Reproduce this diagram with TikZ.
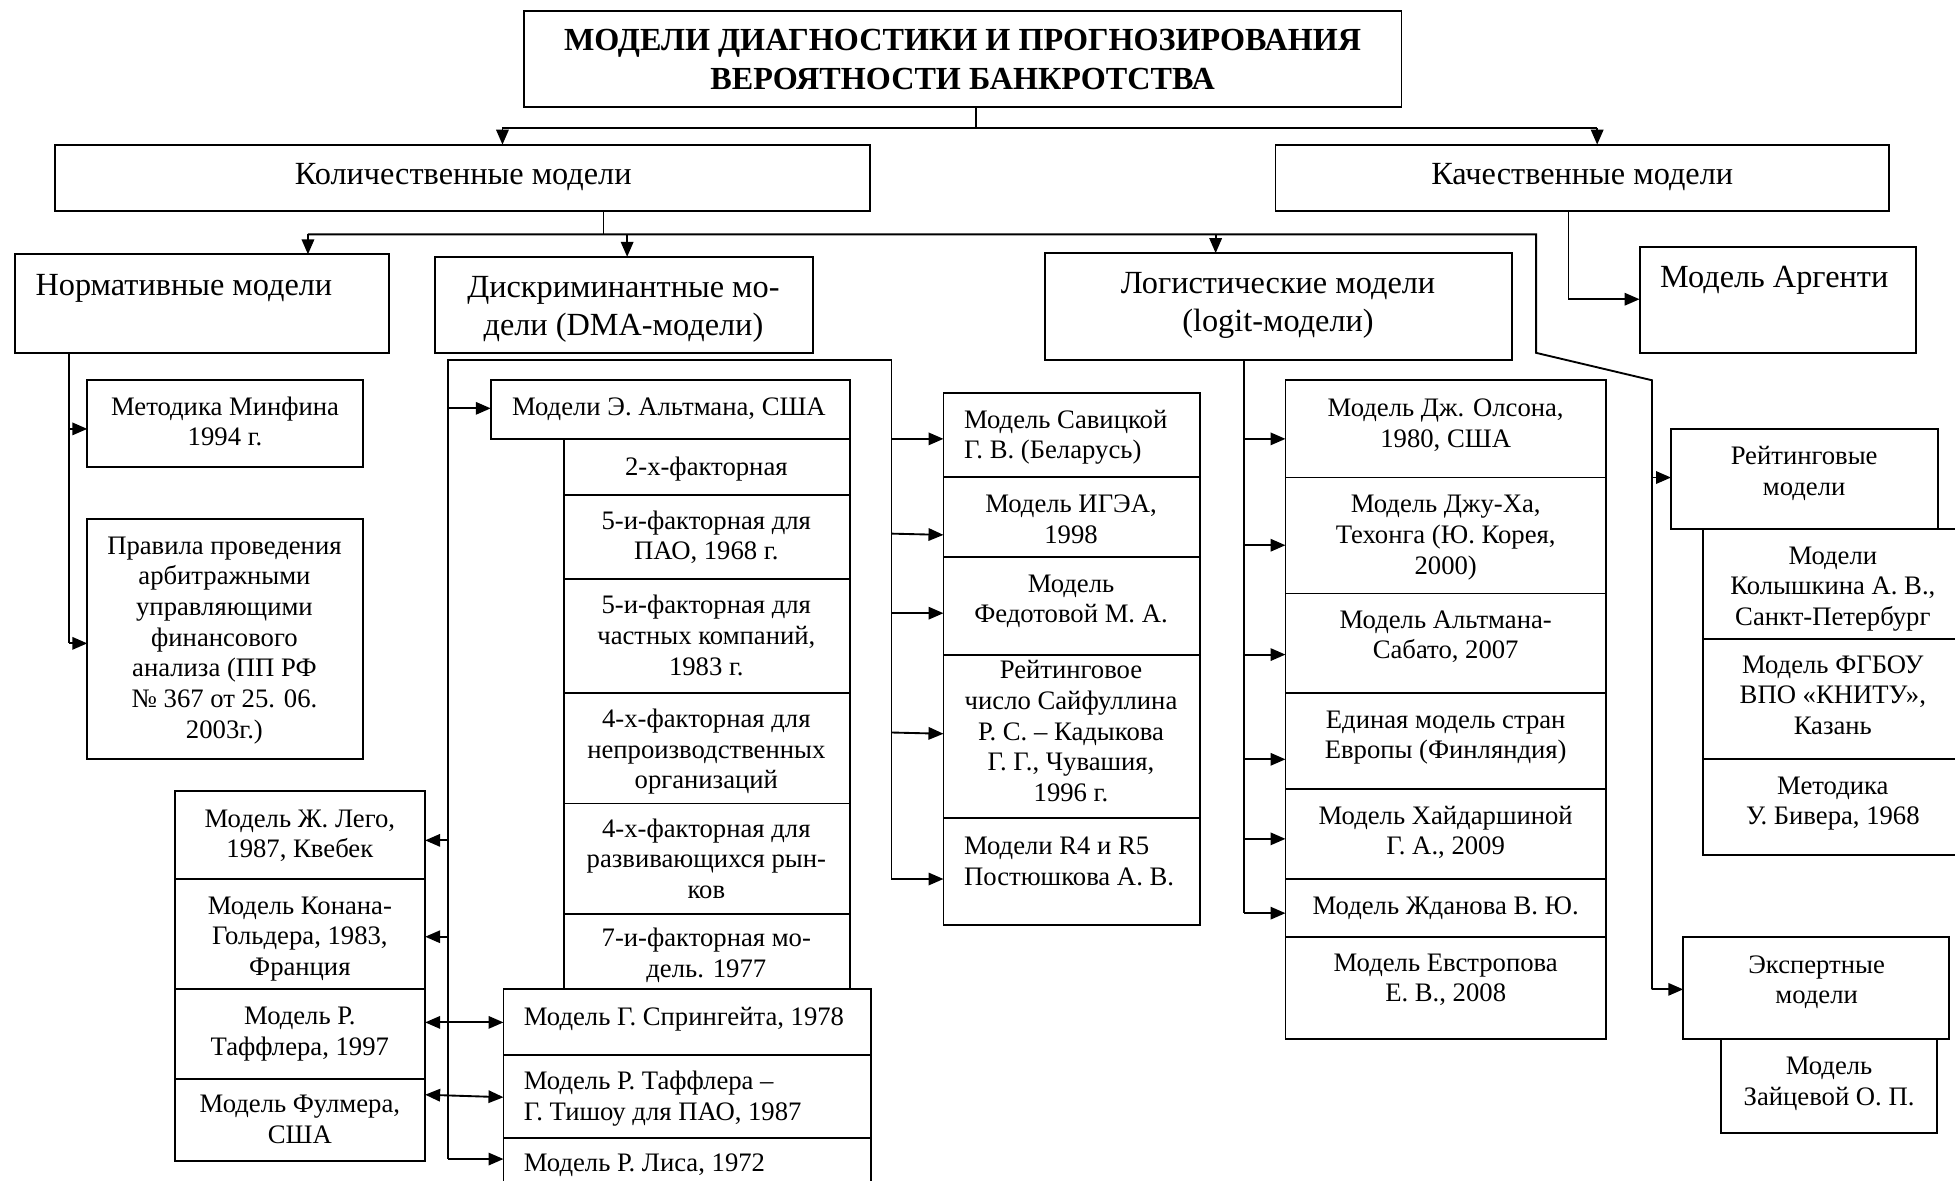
\documentclass[tikz,border=0pt]{standalone}
\usepackage{fontspec}
\setmainfont{Liberation Serif}
\usetikzlibrary{arrows.meta,calc}
\newcommand\mkbox[5]{%
  \pgfmathsetmacro\bxw{#4-#2}\pgfmathsetmacro\bxh{#5-#3}%
  \node[box, anchor=north west, minimum width=\bxw pt, minimum height=\bxh pt] (#1) at (#2,#3) {};}
\tikzset{
 box/.style={draw, line width=1.5pt, inner sep=0pt, outer sep=0pt, fill=white},
 ln/.style={line width=1.5pt},
 arr/.style={line width=1.5pt, -{Triangle[length=12pt,width=10pt]}},
 darr/.style={line width=1.5pt, {Triangle[length=12pt,width=10pt]}-{Triangle[length=12pt,width=10pt]}},
 intxt/.style={inner sep=0pt, align=center, font=\fontsize{21.4}{24.6}\selectfont, anchor=north},
 intxtl/.style={inner sep=0pt, align=left, font=\fontsize{21.4}{24.6}\selectfont, anchor=north west},
 outtxt/.style={inner sep=0pt, align=center, font=\fontsize{25.9}{30}\selectfont, anchor=north},
 ttltxt/.style={inner sep=0pt, align=center, font=\fontsize{25.8}{31}\selectfont\bfseries, anchor=north},
}
\begin{document}
\begin{tikzpicture}[x=1pt,y=-1pt]
\useasboundingbox (0,0) rectangle (1568,947);
\fill[white] (0,0) rectangle (1568,947);
\clip (0,0) rectangle (1568,947);
% ---------- boxes ----------
\mkbox{title}{420}{8.6}{1124}{85.5}
\mkbox{kol}{44}{116}{698}{169}
\mkbox{kach}{1023}{116}{1515}{169}
\mkbox{norm}{12}{204}{312}{283}
\mkbox{disc}{349}{206}{652}{283}
\mkbox{logit}{838}{203}{1213}{289}
\mkbox{argenti}{1315}{198}{1537}{283}
\mkbox{minfin}{70}{305}{291}{374.5}
\mkbox{pravila}{70}{416}{291}{609}
\mkbox{altman}{393.6}{304.5}{681.5}{352}
\mkbox{aA}{452}{352}{681.5}{397.3}
\mkbox{aB}{452}{397.3}{681.5}{464.2}
\mkbox{aC}{452}{464.2}{681.5}{555.7}
\mkbox{aD}{452}{555.7}{681.5}{644.4}
\mkbox{aE}{452}{644.4}{681.5}{732.8}
\mkbox{aF}{452}{732.8}{681.5}{793.5}
\mkbox{lego}{140.4}{634.6}{341}{705}
\mkbox{konan}{140.4}{705}{341}{793.3}
\mkbox{taffler}{140.4}{793.3}{341}{865.4}
\mkbox{fulmer}{140.4}{865.4}{341}{931}
\mkbox{spring}{403.8}{793.5}{698.5}{846}
\mkbox{tt}{403.8}{846}{698.5}{912.5}
\mkbox{lis}{403.8}{912.5}{698.5}{980}
\mkbox{sav}{756.7}{315}{962.2}{382.3}
\mkbox{igea}{756.7}{382.3}{962.2}{446.8}
\mkbox{fed}{756.7}{446.8}{962.2}{525.4}
\mkbox{saif}{756.7}{525.4}{962.2}{656.4}
\mkbox{post}{756.7}{656.4}{962.2}{741.7}
\mkbox{ols}{1031}{304.8}{1288}{383}
\mkbox{dju}{1031}{383}{1288}{476}
\mkbox{asab}{1031}{476}{1288}{555.6}
\mkbox{edin}{1031}{555.6}{1288}{633}
\mkbox{haid}{1031}{633}{1288}{705}
\mkbox{zhd}{1031}{705}{1288}{751.3}
\mkbox{evs}{1031}{751.3}{1288}{833.3}
\mkbox{rating}{1340.2}{344}{1554}{424.3}
\mkbox{kolysh}{1366}{424.3}{1580}{512.5}
\mkbox{fgbou}{1366}{512.5}{1580}{608.8}
\mkbox{biver}{1366}{608.8}{1580}{685.8}
\mkbox{expert}{1350}{751.3}{1563}{833.3}
\mkbox{zaits}{1380}{833.3}{1553.6}{908.5}
% ---------- texts ----------
\node[ttltxt] (t-title) at (772,18.5) {\strut МОДЕЛИ ДИАГНОСТИКИ И ПРОГНОЗИРОВАНИЯ\\ВЕРОЯТНОСТИ БАНКРОТСТВА};
\node[outtxt] (t-kol) at (371.5,126.5) {\strut Количественные модели};
\node[outtxt] (t-kach) at (1269,126.5) {\strut Качественные модели};
\node[outtxt] (t-norm) at (147.5,215.5) {\strut Нормативные модели};
\node[outtxt] (t-disc) at (500,217.5) {\strut Дискриминантные мо-\\дели (DMA-модели)};
\node[outtxt] (t-logit) at (1025,214.5) {\strut Логистические модели\\(logit-модели)};
\node[outtxt] (t-arg) at (1423,209.5) {\strut Модель Аргенти};
\node[intxt] (t-minfin) at (180.5,315.6) {\strut Методика Минфина\\1994 г.};
\node[intxt] (t-pravila) at (180,427) {\strut Правила проведения\\арбитражными\\управляющими\\финансового\\анализа (ПП РФ\\№ 367 от 25. 06.\\2003г.)};
\node[intxt] (t-altman) at (536.5,316) {\strut Модели Э. Альтмана, США};
\node[intxt] (t-aA) at (566.5,364) {\strut 2-х-факторная};
\node[intxt] (t-aB) at (566.5,407) {\strut 5-и-факторная для\\ПАО, 1968 г.};
\node[intxt] (t-aC) at (566.5,475) {\strut 5-и-факторная для\\частных компаний,\\1983 г.};
\node[intxt] (t-aD) at (566.5,566) {\strut 4-х-факторная для\\непроизводственных\\организаций};
\node[intxt] (t-aE) at (566.5,654) {\strut 4-х-факторная для\\развивающихся рын-\\ков};
\node[intxt] (t-aF) at (566.5,742) {\strut 7-и-факторная мо-\\дель. 1977};
\node[intxt] (t-lego) at (240.5,646) {\strut Модель Ж. Лего,\\1987, Квебек};
\node[intxt] (t-konan) at (240.5,715.7) {\strut Модель Конана-\\Гольдера, 1983,\\Франция};
\node[intxt] (t-taffler) at (240.5,804.4) {\strut Модель Р.\\Таффлера, 1997};
\node[intxt] (t-fulmer) at (240.5,875) {\strut Модель Фулмера,\\США};
\node[intxtl] (t-spring) at (420,805) {\strut Модель Г. Спрингейта, 1978};
\node[intxtl] (t-tt) at (420,856.5) {\strut Модель Р. Таффлера –\\Г. Тишоу для ПАО, 1987};
\node[intxtl] (t-lis) at (420,922) {\strut Модель Р. Лиса, 1972};
\node[intxtl] (t-sav) at (773,326) {\strut Модель Савицкой\\Г. В. (Беларусь)};
\node[intxt] (t-igea) at (859,393.7) {\strut Модель ИГЭА,\\1998};
\node[intxt] (t-fed) at (859,457.4) {\strut Модель\\Федотовой М. А.};
\node[intxt] (t-saif) at (859,527) {\strut Рейтинговое\\число Сайфуллина\\Р. С. – Кадыкова\\Г. Г., Чувашия,\\1996 г.};
\node[intxtl] (t-post) at (773,667.8) {\strut Модели R4 и R5\\Постюшкова А. В.};
\node[intxt] (t-ols) at (1159.5,316.5) {\strut Модель Дж. Олсона,\\1980, США};
\node[intxt] (t-dju) at (1159.5,394) {\strut Модель Джу-Ха,\\Техонга (Ю. Корея,\\2000)};
\node[intxt] (t-asab) at (1159.5,486.3) {\strut Модель Альтмана-\\Сабато, 2007};
\node[intxt] (t-edin) at (1159.5,566.5) {\strut Единая модель стран\\Европы (Финляндия)};
\node[intxt] (t-haid) at (1159.5,643.5) {\strut Модель Хайдаршиной\\Г. А., 2009};
\node[intxt] (t-zhd) at (1159.5,716.2) {\strut Модель Жданова В. Ю.};
\node[intxt] (t-evs) at (1159.5,761.6) {\strut Модель Евстропова\\Е. В., 2008};
\node[intxt] (t-rating) at (1447,355.3) {\strut Рейтинговые\\модели};
\node[intxt] (t-kolysh) at (1470,435) {\strut Модели\\Колышкина А. В.,\\Санкт-Петербург};
\node[intxt] (t-fgbou) at (1470,522.4) {\strut Модель ФГБОУ\\ВПО «КНИТУ»,\\Казань};
\node[intxt] (t-biver) at (1470,619.4) {\strut Методика\\У. Бивера, 1968};
\node[intxt] (t-expert) at (1457,763) {\strut Экспертные\\модели};
\node[intxt] (t-zaits) at (1467,844.5) {\strut Модель\\Зайцевой О. П.};
% ---------- connectors ----------
% level 1
\coordinate (hA) at (783,103);
\coordinate (hL) at (403,103);
\coordinate (hR) at (1281,103);
\draw[ln] (title.south -| hA) -- (hA);
\draw[ln] (hL) -- (hR);
\draw[arr] (hL) -- (kol.north -| hL);
\draw[arr] (hR) -- (kach.north -| hR);
% level 2
\coordinate (k0) at (484,188);
\coordinate (kN) at (247,188);
\coordinate (kD) at (503,188);
\coordinate (kL) at (975,188);
\coordinate (kR) at (1232,188);
\coordinate (dA) at (1232,283);
\coordinate (dB) at (1325,305);
\draw[ln] (kol.south -| k0) -- (k0);
\draw[ln] (kN) -- (kR) -- (dA) -- (dB) -- (dB |- 0,793.5);
\draw[arr] (kN) -- (norm.north -| kN);
\draw[arr] (kD) -- (disc.north -| kD);
\draw[arr] (kL) -- (logit.north -| kL);
\draw[arr] (dB |- 0,383) -- (rating.west |- 0,383);
\draw[arr] (dB |- 0,793.5) -- (expert.west |- 0,793.5);
% qualitative -> Argenti
\coordinate (qA) at (1258,240);
\draw[arr] (kach.south -| qA) -- (qA) -- (argenti.west |- qA);
% normative
\coordinate (nA) at (55,516);
\draw[ln] (norm.south -| nA) -- (nA);
\draw[arr] (nA |- 0,344) -- (minfin.west |- 0,344);
\draw[arr] (nA) -- (pravila.west |- nA);
% DMA frame
\coordinate (fA) at (359,929.6);
\coordinate (fB) at (359,289);
\coordinate (fC) at (715,289);
\coordinate (fD) at (715,705);
\draw[ln] (fA) -- (fB) -- (fC) -- (fD);
\draw[arr] (fA) -- (lis.west |- fA);
\draw[arr] (fB |- 0,327.5) -- (altman.west |- 0,327.5);
\draw[arr] (fB |- 0,674) -- (lego.east |- 0,674);
\draw[arr] (fB |- 0,751.3) -- (konan.east |- 0,751.3);
\draw[darr] (taffler.east |- 0,820) -- (spring.west |- 0,820);
\draw[darr] (fulmer.east |- 0,878) -- (tt.west |- 0,880);
\draw[arr] (fC |- 0,352) -- (sav.west |- 0,352);
\draw[arr] (fC |- 0,428) -- (igea.west |- 0,429);
\draw[arr] (fC |- 0,491.8) -- (fed.west |- 0,491.8);
\draw[arr] (fC |- 0,587.5) -- (saif.west |- 0,588.5);
\draw[arr] (fD) -- (post.west |- fD);
% logit
\coordinate (lA) at (998,732.4);
\draw[ln] (logit.south -| lA) -- (lA);
\draw[arr] (lA |- 0,352) -- (ols.west |- 0,352);
\draw[arr] (lA |- 0,437.3) -- (dju.west |- 0,437.3);
\draw[arr] (lA |- 0,525) -- (asab.west |- 0,525);
\draw[arr] (lA |- 0,609) -- (edin.west |- 0,609);
\draw[arr] (lA |- 0,672.8) -- (haid.west |- 0,672.8);
\draw[arr] (lA) -- (zhd.west |- lA);
\end{tikzpicture}
\end{document}
